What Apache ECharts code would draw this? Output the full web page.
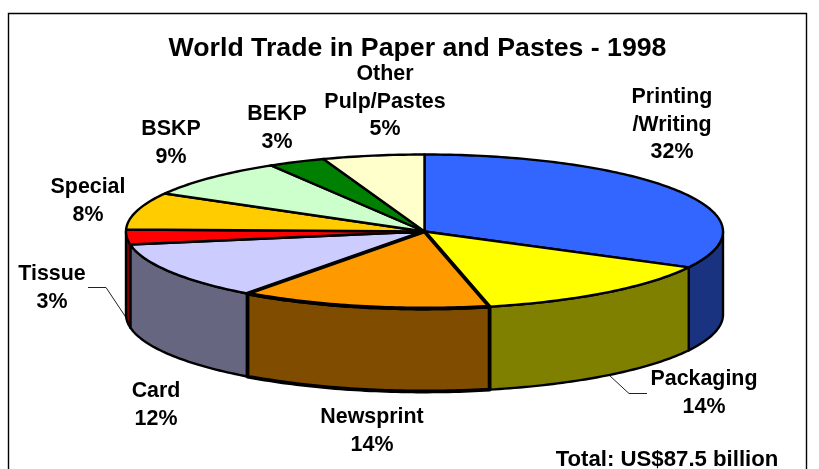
<!DOCTYPE html>
<html>
<head>
<meta charset="utf-8">
<style>
  html, body { margin: 0; padding: 0; background: #fff; }
  #chart { width: 819px; height: 469px; }
</style>
<script src="https://cdn.jsdelivr.net/npm/echarts@6/dist/echarts.min.js"></script>
</head>
<body>
<div id="chart"></div>
<script>
const categories = ['Printing\n/Writing', 'Packaging', 'Newsprint', 'Card', 'Tissue', 'Special', 'BSKP', 'BEKP', 'Other\nPulp/Pastes']
const sliceShares = [32.7, 13.8, 13.6, 12.2, 3.1, 7.8, 8.2, 3.1, 5.5]
// percentages as printed on the chart
const shareLabels = ['32%', '14%', '14%', '12%', '3%', '8%', '9%', '3%', '5%']

const topColors = ['#3366ff', '#ffff00', '#ff9900', '#ccccff', '#ff0000', '#ffcc00', '#ccffcc', '#008000', '#ffffcc']
const wallColors = ['#1a3380', '#808000', '#804d00', '#666680', '#800000', '#806600', '#668066', '#004000', '#808066']
const borderWidths = [2.4, 2.4, 3.8, 2.4, 2.4, 2.4, 2.4, 2.4, 2.4]
const labelAnchors = [[672, 125], [704, 393], [372, 431], [156, 405], [52, 288], [88, 201], [171, 143], [277, 128], [385, 102]]

const cx = 424.5
const cy = 231.5
const rx = 298.5
const ry = 77
const depth = 83

const total = sliceShares.reduce((a, b) => a + b, 0)

// clockwise from 12 o'clock, in degrees
const sliceRange = (i) => {
  const before = sliceShares.slice(0, i).reduce((a, b) => a + b, 0)
  return [before / total * 360, (before + sliceShares[i]) / total * 360]
}

const rimPoint = (deg, dy) => {
  const t = deg * Math.PI / 180
  return [cx + rx * Math.sin(t), cy - ry * Math.cos(t) + dy]
}

const arcPoints = (from, to, dy) => {
  const pts = []
  const steps = Math.max(2, Math.ceil(Math.abs(to - from)))
  for (let s = 0; s <= steps; s++) {
    pts.push(rimPoint(from + (to - from) * s / steps, dy))
  }
  return pts
}

const renderWall = (params) => {
  const i = params.dataIndex
  const [a0, a1] = sliceRange(i)
  const from = Math.max(a0, 90)
  const to = Math.min(a1, 270)
  if (to <= from) return { type: 'group', children: [] }
  return {
    type: 'polygon',
    z2: borderWidths[i] > 3 ? 5 : 1,
    shape: { points: arcPoints(from, to, 0).concat(arcPoints(to, from, depth)) },
    style: { fill: wallColors[i], stroke: '#000', lineWidth: borderWidths[i], lineJoin: 'round' }
  }
}

const renderTop = (params) => {
  const i = params.dataIndex
  const [a0, a1] = sliceRange(i)
  return {
    type: 'polygon',
    z2: borderWidths[i] > 3 ? 5 : 1,
    shape: { points: [[cx, cy]].concat(arcPoints(a0, a1, 0)) },
    style: { fill: topColors[i], stroke: '#000', lineWidth: borderWidths[i], lineJoin: 'round' }
  }
}

const sliceData = categories.map((name, i) => ({ name, value: sliceShares[i] }))

const fontFamily = '"Liberation Sans", Arial, sans-serif'

const leaderLine = (points) => ({
  type: 'polyline',
  silent: true,
  shape: { points },
  style: { fill: null, stroke: '#222', lineWidth: 1 }
})

const chart = echarts.init(document.getElementById('chart'))

chart.setOption({
  animation: false,
  backgroundColor: '#fff',
  tooltip: { show: false },
  graphic: [
    {
      type: 'polyline',
      silent: true,
      z: -1,
      shape: { points: [[8.5, 480], [8.5, 13.5], [806.5, 13.5], [806.5, 480]] },
      style: { fill: null, stroke: '#000', lineWidth: 1.4 }
    },
    {
      type: 'text',
      silent: true,
      x: 417.5,
      y: 48.5,
      style: {
        text: 'World Trade in Paper and Pastes - 1998',
        font: 'bold 26.7px ' + fontFamily,
        fill: '#000',
        align: 'center',
        verticalAlign: 'middle'
      }
    },
    leaderLine([[88, 287.5], [106, 287.5], [127, 319]]),
    leaderLine([[609, 375], [629, 393.5], [647, 393.5]]),
    ...categories.map((name, i) => ({
      type: 'text',
      silent: true,
      x: labelAnchors[i][0],
      y: labelAnchors[i][1],
      style: {
        text: name + '\n' + shareLabels[i],
        font: 'bold 21.4px ' + fontFamily,
        fill: '#000',
        align: 'center',
        verticalAlign: 'middle',
        lineHeight: 27.5
      }
    })),
    {
      type: 'text',
      silent: true,
      x: 667,
      y: 460,
      style: {
        text: 'Total: US$87.5 billion',
        font: 'bold 22.2px ' + fontFamily,
        fill: '#000',
        align: 'center',
        verticalAlign: 'middle'
      }
    }
  ],
  series: [
    { type: 'custom', coordinateSystem: 'none', renderItem: renderWall, data: sliceData, silent: true, z: 2 },
    { type: 'custom', coordinateSystem: 'none', renderItem: renderTop, data: sliceData, silent: true, z: 3 }
  ]
})
</script>
</body>
</html>
